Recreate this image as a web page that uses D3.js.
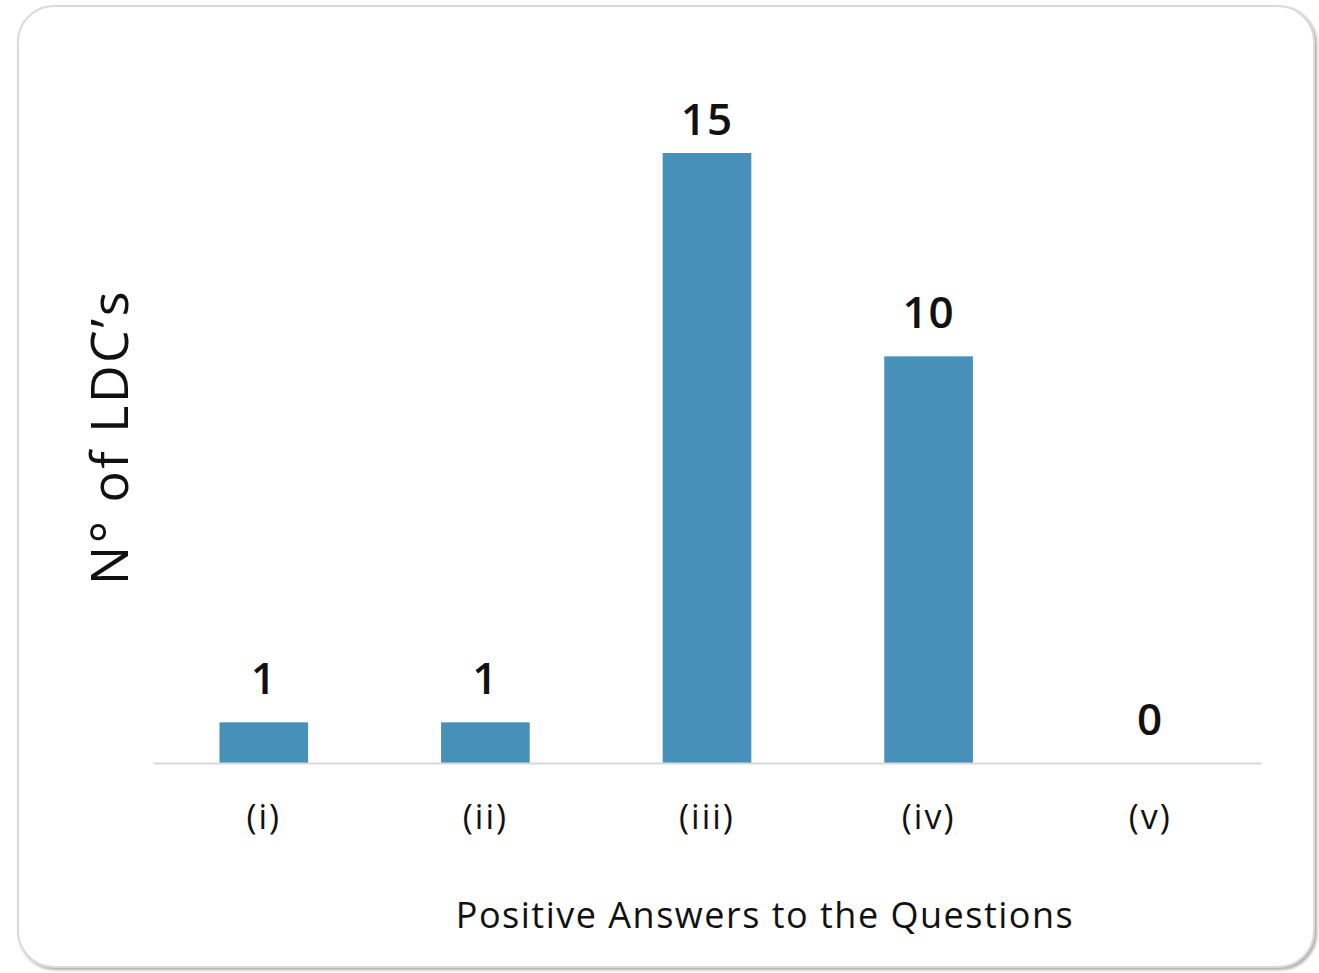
<!DOCTYPE html>
<html>
<head>
<meta charset="utf-8">
<script src="https://cdn.jsdelivr.net/npm/d3@7"></script>
<style>
  html, body { margin: 0; padding: 0; background: #fff; }
  svg { display: block; font-family: "Open Sans", "DejaVu Sans", sans-serif; }
</style>
</head>
<body>
<svg class="chart" width="1319" height="973"></svg>
<script>
// chart data
const categories = ["(i)", "(ii)", "(iii)", "(iv)", "(v)"];
const values = [1, 1, 15, 10, 0];
const yTitle = "N° of LDC’s";
const xTitle = "Positive Answers to the Questions";

const margin = { top: 153, right: 58, bottom: 210, left: 153 };
const width = 1319 - margin.left - margin.right;
const height = 973 - margin.top - margin.bottom;

const root = d3.select(".chart");

// soft shadow for the card frame
const defs = root.append("defs");
const shadow = defs.append("filter").attr("id", "shadow")
  .attr("x", "-5%").attr("y", "-5%").attr("width", "110%").attr("height", "110%");
shadow.append("feDropShadow")
  .attr("dx", 2).attr("dy", 2).attr("stdDeviation", 1.5)
  .attr("flood-color", "#888").attr("flood-opacity", 0.7);

root.append("rect")
  .attr("x", 18).attr("y", 6)
  .attr("width", 1296).attr("height", 961)
  .attr("rx", 36).attr("ry", 36)
  .attr("fill", "#fff")
  .attr("stroke", "#dadada")
  .attr("stroke-width", 2)
  .attr("filter", "url(#shadow)");

const svg = root.append("g")
  .attr("transform", `translate(${margin.left},${margin.top})`);

const x = d3.scaleBand()
  .domain(categories)
  .range([0, width])
  .paddingInner(0.6)
  .paddingOuter(0.3);

const y = d3.scaleLinear()
  .domain([0, d3.max(values)])
  .range([height, 0]);

const data = categories.map((c, i) => ({ cat: c, value: values[i] }));

// bars
svg.selectAll(".bar")
  .data(data)
  .join("rect")
  .attr("class", "bar")
  .attr("x", (d) => x(d.cat))
  .attr("y", (d) => y(d.value))
  .attr("width", x.bandwidth())
  .attr("height", (d) => height - y(d.value))
  .attr("fill", "#4690ba");

// baseline axis
const xAxis = svg.append("g")
  .attr("transform", `translate(0,${height})`)
  .call(d3.axisBottom(x).tickSize(0).tickPadding(42));
xAxis.select(".domain")
  .attr("stroke", "#d9d9d9")
  .attr("stroke-width", 2);
xAxis.selectAll(".tick text")
  .attr("font-size", 34)
  .attr("letter-spacing", 2)
  .attr("fill", "#111")
  .style("font-family", "'Open Sans', sans-serif");

// value labels (the tallest one is held just under the card top)
svg.selectAll(".label")
  .data(data)
  .join("text")
  .attr("class", "label")
  .attr("x", (d) => x(d.cat) + x.bandwidth() / 2)
  .attr("y", (d) => Math.max(y(d.value) - 28, -18))
  .attr("text-anchor", "middle")
  .attr("font-size", 44)
  .attr("font-weight", 600)
  .attr("letter-spacing", 1)
  .attr("fill", "#111")
  .text((d) => d.value);

// axis titles
root.append("text")
  .attr("x", 765)
  .attr("y", 928)
  .attr("text-anchor", "middle")
  .attr("font-size", 36)
  .attr("letter-spacing", 1.5)
  .attr("fill", "#111")
  .text(xTitle);

root.append("text")
  .attr("transform", "translate(128,437) rotate(-90)")
  .attr("text-anchor", "middle")
  .attr("font-size", 52)
  .attr("letter-spacing", 2.5)
  .attr("fill", "#111")
  .text(yTitle);
</script>
</body>
</html>
